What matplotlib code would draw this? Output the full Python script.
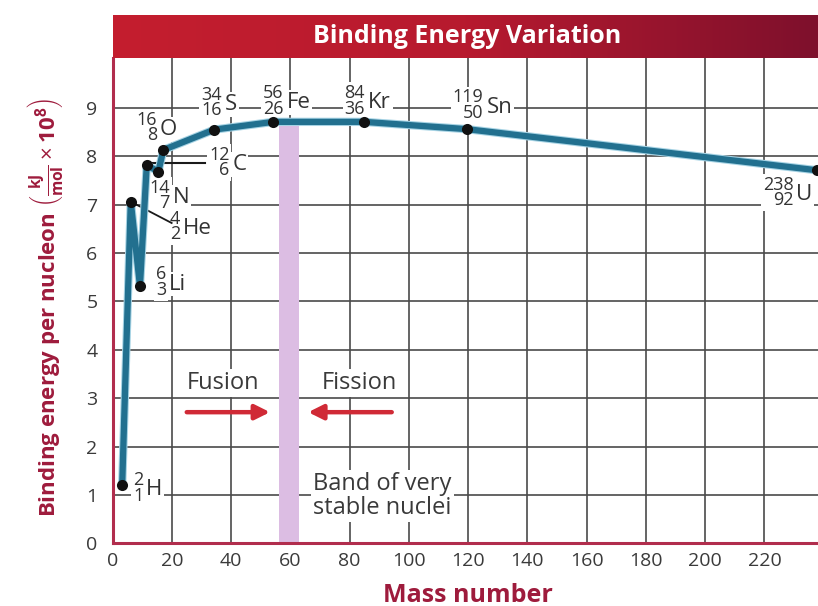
import numpy as np
import matplotlib
matplotlib.use("Agg")
import matplotlib.pyplot as plt
import matplotlib.patheffects as pe
from matplotlib.colors import LinearSegmentedColormap

plt.rcParams['font.family'] = ['Open Sans', 'DejaVu Sans']
plt.rcParams['mathtext.fontset'] = 'custom'
plt.rcParams['mathtext.rm'] = 'Open Sans'
plt.rcParams['mathtext.bf'] = 'Open Sans:bold'

# Data (positions as plotted)
symbols = ['H', 'He', 'Li', 'C', 'N', 'O', 'S', 'Fe', 'Kr', 'Sn', 'U']
mass_numbers = [2, 4, 6, 12, 14, 16, 34, 56, 84, 119, 238]
atomic_numbers = [1, 2, 3, 6, 7, 8, 16, 26, 36, 50, 92]
mass_x = [3.2, 6.1, 9.2, 11.5, 15.4, 17.1, 34.3, 54.2, 84.9, 119.5, 237.7]
binding = [1.2, 7.06, 5.32, 7.82, 7.68, 8.13, 8.55, 8.71, 8.71, 8.56, 7.71]

x_ticks = list(range(0, 221, 20))
y_ticks = list(range(0, 10))

band_range = (56.2, 63.0)
band_top = 8.62

# label anchors (right edge of the stacked numbers, vertical centre)
label_pos = {
    'H': (10.3, 1.16), 'He': (22.7, 6.56), 'Li': (18.0, 5.41),
    'C': (39.4, 7.88), 'N': (19.3, 7.20), 'O': (14.9, 8.61),
    'S': (36.8, 9.12), 'Fe': (57.6, 9.16), 'Kr': (85.2, 9.16),
    'Sn': (125.1, 9.07), 'U': (229.8, 7.26),
}

red_text = '#9e1b3c'
curve_color = '#22708f'
grid_color = '#4a4a4a'

fig = plt.figure(figsize=(8.18, 6.06), dpi=100)
ax = fig.add_axes([112.7 / 818, (606 - 543.3) / 606, 1 - 112.7 / 818, (543.3 - 58) / 606])

ax.set_xlim(0, 238.1)
ax.set_ylim(0, 10.03)
ax.set_xticks(x_ticks)
ax.set_yticks(y_ticks)
ax.grid(True, color=grid_color, lw=1.2, zorder=0)
ax.set_axisbelow(True)
ax.tick_params(length=0, labelsize=14, labelcolor='#3a3a3a')
ax.tick_params(axis='y', pad=11)
ax.tick_params(axis='x', pad=6)
for s in ['top', 'right']:
    ax.spines[s].set_visible(False)
for s in ['left', 'bottom']:
    ax.spines[s].set_color('#b12d4d')
    ax.spines[s].set_linewidth(2.2)

# band of very stable nuclei
ax.bar((band_range[0] + band_range[1]) / 2, band_top, width=band_range[1] - band_range[0],
       color='#dcbde3', zorder=1)

# curve
ax.plot(mass_x, binding, color=curve_color, lw=4.5, zorder=5, solid_joinstyle='round',
        path_effects=[pe.Stroke(linewidth=6.0, foreground='#a6d3e4'), pe.Normal()])
ax.plot(mass_x, binding, 'o', color='#111111', ms=8, mec='none', zorder=6)

# leader lines for He and C
ax.plot([mass_x[1], 19.9], [binding[1], 6.62], color='#1a1a1a', lw=1.3, zorder=4)
ax.plot([10.9, 31.1], [7.86, 7.86], color='#1a1a1a', lw=1.5, zorder=4)


def nuclide(sym, A, Z):
    x, y = label_pos[sym]
    kw = dict(xycoords='data', textcoords='offset points', zorder=3, color='#333333',
              bbox=dict(fc='white', ec='none', pad=1.3))
    ax.annotate(f'{A}\n{Z}', (x, y), xytext=(0, -0.5), ha='right', va='center',
                multialignment='right', linespacing=0.82, fontsize=13, **kw)
    ax.annotate(sym, (x, y), xytext=(2.2, -5.8), ha='left', va='baseline', fontsize=16, **kw)


for sym, A, Z in zip(symbols, mass_numbers, atomic_numbers):
    nuclide(sym, A, Z)

# fusion / fission arrows
arrow_kw = dict(arrowstyle='-|>', color='#d02a36', lw=3.2, mutation_scale=22, shrinkA=0, shrinkB=0)
ax.annotate('', xy=(53.1, 2.71), xytext=(25.0, 2.71), arrowprops=arrow_kw, zorder=4)
ax.annotate('', xy=(66.0, 2.71), xytext=(94.2, 2.71), arrowprops=arrow_kw, zorder=4)
ax.text(37.1, 3.31, 'Fusion', ha='center', va='center', fontsize=17, color='#3a3a3a',
        bbox=dict(fc='white', ec='none', pad=1.5), zorder=3)
ax.text(83.2, 3.31, 'Fission', ha='center', va='center', fontsize=17, color='#3a3a3a',
        bbox=dict(fc='white', ec='none', pad=1.5), zorder=3)
ax.text(67.7, 0.97, 'Band of very\nstable nuclei', ha='left', va='center', fontsize=17,
        color='#3a3a3a', linespacing=1.0, bbox=dict(fc='white', ec='none', pad=1.5), zorder=3)

# title bar with gradient
tax = fig.add_axes([112.7 / 818, (606 - 58) / 606, 1 - 112.7 / 818, 43 / 606])
cmap = LinearSegmentedColormap.from_list('bar', ['#c41e2e', '#b71a2f', '#7e102c'])
tax.imshow(np.linspace(0, 1, 256).reshape(1, -1), aspect='auto', cmap=cmap, extent=[0, 1, 0, 1])
tax.set_axis_off()
tax.text(0.502, 0.5, 'Binding Energy Variation', ha='center', va='center', fontsize=18,
         fontweight='bold', color='white')

# axis labels
fig.text(45 / 818, (606 - 307) / 606,
         r'Binding energy per nucleon $\left(\frac{\mathbf{kJ}}{\mathbf{mol}}\times\mathbf{10^8}\right)$',
         rotation=90, ha='center', va='center', fontsize=16, fontweight='bold', color=red_text)
fig.text(468 / 818, (606 - 595) / 606, 'Mass number', ha='center', va='center',
         fontsize=18, fontweight='bold', color=red_text)

fig.savefig('out.png', dpi=100)
